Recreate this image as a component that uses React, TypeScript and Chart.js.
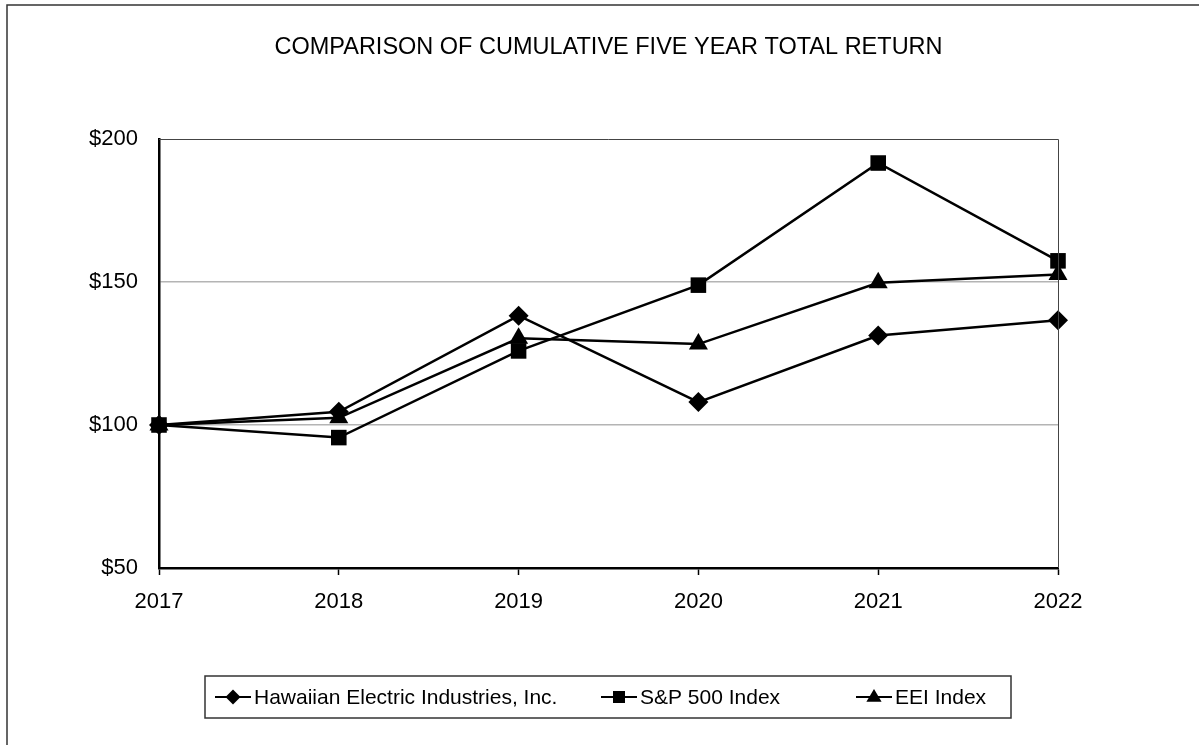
import React, { useEffect, useRef } from "react";
import { Chart, registerables } from "chart.js";

Chart.register(...registerables);

const categories = ["2017", "2018", "2019", "2020", "2021", "2022"];
const heiValues = [100, 104.6, 138.2, 108.0, 131.3, 136.6];
const spValues = [100, 95.6, 125.9, 148.9, 191.6, 157.4];
const eeiValues = [100, 102.5, 130.3, 128.3, 149.7, 152.6];
const seriesNames = ["Hawaiian Electric Industries, Inc.", "S&P 500 Index", "EEI Index"];
const titleText = "COMPARISON OF CUMULATIVE FIVE YEAR TOTAL RETURN";
const yTicks = [50, 100, 150, 200];

const FONT = "'Liberation Sans', Arial, Helvetica, sans-serif";

function drawMarker(ctx: CanvasRenderingContext2D, style: string, x: number, y: number, r: number) {
  ctx.beginPath();
  if (style === "rectRot") {
    ctx.moveTo(x, y - r);
    ctx.lineTo(x + r, y);
    ctx.lineTo(x, y + r);
    ctx.lineTo(x - r, y);
  } else if (style === "rect") {
    ctx.rect(x - r, y - r, 2 * r, 2 * r);
  } else {
    ctx.moveTo(x, y - r);
    ctx.lineTo(x + r * 0.95, y + r * 0.6);
    ctx.lineTo(x - r * 0.95, y + r * 0.6);
  }
  ctx.closePath();
  ctx.fill();
}

const decorPlugin = {
  id: "decor",
  beforeDraw(chart: any) {
    const ctx = chart.ctx as CanvasRenderingContext2D;
    ctx.save();
    ctx.fillStyle = "#fff";
    ctx.fillRect(0, 0, chart.width, chart.height);
    ctx.restore();
  },
  afterDraw(chart: any) {
    const ctx = chart.ctx as CanvasRenderingContext2D;
    const a = chart.chartArea;
    ctx.save();
    // outer frame
    ctx.strokeStyle = "#333";
    ctx.lineWidth = 1.5;
    ctx.beginPath();
    ctx.moveTo(7, chart.height + 2);
    ctx.lineTo(7, 5);
    ctx.lineTo(chart.width + 2, 5);
    ctx.stroke();
    // plot top/right border
    ctx.strokeStyle = "#444";
    ctx.lineWidth = 1;
    ctx.beginPath();
    ctx.moveTo(a.left, a.top + 0.5);
    ctx.lineTo(a.right + 0.5, a.top + 0.5);
    ctx.lineTo(a.right + 0.5, a.bottom);
    ctx.stroke();
    // title
    ctx.fillStyle = "#000";
    ctx.font = `23.5px ${FONT}`;
    ctx.textAlign = "center";
    ctx.textBaseline = "middle";
    ctx.fillText(titleText, (a.left + a.right) / 2, 48);
    // legend
    const bx = 205, by = 676, bw = 806, bh = 42;
    ctx.strokeStyle = "#333";
    ctx.lineWidth = 1.5;
    ctx.strokeRect(bx, by, bw, bh);
    const cy = by + bh / 2;
    const items = [
      { x0: 215, x1: 251, style: "rectRot", r: 7.5 },
      { x0: 601, x1: 637, style: "rect", r: 6 },
      { x0: 856, x1: 892, style: "triangle", r: 8 },
    ];
    ctx.font = `21px ${FONT}`;
    ctx.textAlign = "left";
    items.forEach((it, i) => {
      ctx.strokeStyle = "#000";
      ctx.lineWidth = 2;
      ctx.beginPath();
      ctx.moveTo(it.x0, cy);
      ctx.lineTo(it.x1, cy);
      ctx.stroke();
      ctx.fillStyle = "#000";
      drawMarker(ctx, it.style, (it.x0 + it.x1) / 2, cy, it.r);
      ctx.fillText(seriesNames[i], it.x1 + 3, cy + 1);
    });
    ctx.restore();
  },
};

export default function App() {
  const ref = useRef<HTMLCanvasElement | null>(null);
  useEffect(() => {
    if (!ref.current) return;
    const mk = (label: string, data: number[], style: string, r: number) => ({
      label,
      data,
      borderColor: "#000",
      backgroundColor: "#000",
      borderWidth: 2.5,
      pointStyle: style,
      pointRadius: r,
      pointBackgroundColor: "#000",
      pointBorderColor: "#000",
      pointBorderWidth: 0,
      tension: 0,
    });
    const chart = new Chart(ref.current, {
      type: "line",
      data: {
        labels: categories,
        datasets: [
          mk(seriesNames[0], heiValues, "rectRot", 10),
          mk(seriesNames[1], spValues, "rect", 11),
          mk(seriesNames[2], eeiValues, "triangle", 11),
        ] as any,
      },
      options: {
        animation: false,
        responsive: true,
        maintainAspectRatio: false,
        layout: { padding: { left: 0, top: 139, right: 141, bottom: 0 } },
        plugins: {
          legend: { display: false },
          title: { display: false },
          tooltip: { enabled: false },
        },
        scales: {
          x: {
            type: "category",
            offset: false,
            grid: {
              drawOnChartArea: false,
              drawTicks: true,
              tickLength: 7,
              tickColor: "#000",
              tickWidth: 1.5,
            },
            border: { display: true, color: "#000", width: 2.5 },
            ticks: {
              color: "#000",
              font: { family: FONT, size: 22 },
              padding: 14,
              maxRotation: 0,
            },
            afterFit: (s: any) => {
              s.height = 177;
            },
          },
          y: {
            min: 50,
            max: 200,
            afterBuildTicks: (s: any) => {
              s.ticks = yTicks.map((v) => ({ value: v }));
            },
            grid: {
              drawTicks: false,
              color: (c: any) =>
                c.tick && (c.tick.value === 100 || c.tick.value === 150) ? "#b4b4b4" : "rgba(0,0,0,0)",
              lineWidth: 1.5,
            },
            border: { display: true, color: "#000", width: 2.5 },
            ticks: {
              color: "#000",
              font: { family: FONT, size: 22 },
              padding: 21,
              callback: (v: any) => "$" + v,
            },
            afterFit: (s: any) => {
              s.width = 159;
            },
          },
        },
      },
      plugins: [decorPlugin],
    });
    return () => chart.destroy();
  }, []);
  return (
    <div style={{ position: "fixed", left: 0, top: 0, width: 1199, height: 745, background: "#fff" }}>
      <canvas ref={ref} />
    </div>
  );
}
